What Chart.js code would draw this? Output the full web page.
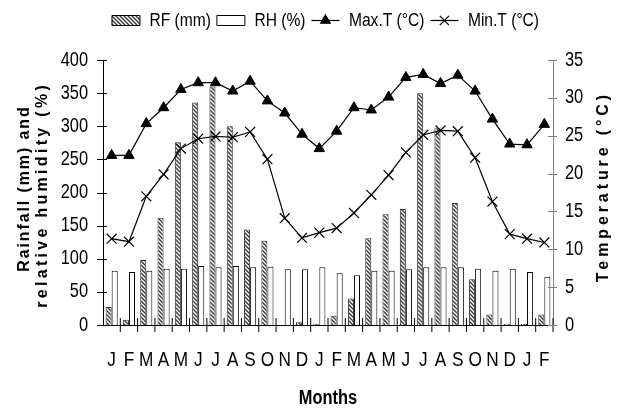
<!DOCTYPE html>
<html>
<head>
<meta charset="utf-8">
<script src="https://cdn.jsdelivr.net/npm/chart.js@4/dist/chart.umd.min.js"></script>
<style>
html,body{margin:0;padding:0;background:#fff;}
#wrap{width:629px;height:410px;position:relative;}
</style>
</head>
<body>
<div id="wrap"><canvas id="c" width="629" height="410"></canvas></div>
<script>
// ---- data ----
const months = ['J','F','M','A','M','J','J','A','S','O','N','D','J','F','M','A','M','J','J','A','S','O','N','D','J','F'];
const rainfall = [27, 8, 98, 162, 276, 336, 360, 300, 144, 127, 0, 4, 2, 14, 40, 131, 167, 175, 350, 297, 184, 69, 16, 2, 2, 16];
const humidity = [82, 80, 82, 85, 85, 89, 87, 89, 87, 88, 84, 84, 87, 78, 75, 82, 82, 84, 87, 87, 87, 85, 82, 85, 80, 73];
const maxTemp = [22.4, 22.4, 26.6, 28.7, 31.1, 32.0, 32.0, 30.9, 32.2, 29.6, 28.0, 25.2, 23.3, 25.6, 28.7, 28.4, 30.1, 32.7, 33.1, 31.9, 33.0, 30.9, 27.2, 23.9, 23.8, 26.5];
const minTemp = [11.4, 11.0, 17.0, 19.9, 23.3, 24.6, 24.9, 24.8, 25.5, 21.9, 14.1, 11.5, 12.2, 12.8, 14.8, 17.2, 19.8, 22.8, 25.1, 25.7, 25.6, 22.1, 16.3, 12.0, 11.4, 10.9];
const leftTicks = [0, 50, 100, 150, 200, 250, 300, 350, 400];
const rightTicks = [0, 5, 10, 15, 20, 25, 30, 35];
const leftTitle = ['Rainfall (mm) and', 'relative humidity (%)'];
const rightTitle = 'Temperature (°C)';
const xTitle = 'Months';

const FONT = "'Liberation Sans', Arial, sans-serif";

// condensed look (like Arial Narrow) for the chart text: squeeze glyphs horizontally
const canvas = document.getElementById('c');
const c2d = canvas.getContext('2d');
const SQUEEZE = 0.82;
let squeezeOn = true;
const _fill = c2d.fillText.bind(c2d);
const _measure = c2d.measureText.bind(c2d);
c2d.fillText = function (text, x, y, maxWidth) {
  if (!squeezeOn) return maxWidth === undefined ? _fill(text, x, y) : _fill(text, x, y, maxWidth);
  const w = _measure(text).width * SQUEEZE;
  _fill(text, x, y, maxWidth !== undefined ? Math.min(maxWidth, w) : w);
};
c2d.measureText = function (text) {
  const m = _measure(text);
  if (!squeezeOn) return m;
  return {
    width: m.width * SQUEEZE,
    actualBoundingBoxAscent: m.actualBoundingBoxAscent,
    actualBoundingBoxDescent: m.actualBoundingBoxDescent,
    actualBoundingBoxLeft: m.actualBoundingBoxLeft * SQUEEZE,
    actualBoundingBoxRight: m.actualBoundingBoxRight * SQUEEZE,
    fontBoundingBoxAscent: m.fontBoundingBoxAscent,
    fontBoundingBoxDescent: m.fontBoundingBoxDescent
  };
};

// hatch pattern for rainfall bars
function makeHatch() {
  const s = 4;
  const cv = document.createElement('canvas');
  cv.width = s; cv.height = s;
  const g = cv.getContext('2d');
  g.fillStyle = '#fff';
  g.fillRect(0, 0, s, s);
  g.strokeStyle = '#3a3a3a';
  g.lineWidth = 1.4;
  g.beginPath();
  g.moveTo(-1, -1); g.lineTo(s + 1, s + 1);
  g.moveTo(-1, s - 1); g.lineTo(1, s + 1);
  g.moveTo(s - 1, -1); g.lineTo(s + 1, 1);
  g.stroke();
  return g.createPattern(cv, 'repeat');
}
const hatch = makeHatch();

const LEGEND_SHIFT_X = 11;
const LEGEND_SHIFT_Y = 20;

function drawRotated(ctx, text, x, y, spacing) {
  ctx.save();
  squeezeOn = false;
  ctx.fillStyle = '#000';
  ctx.font = 'bold 16px ' + FONT;
  if ('letterSpacing' in ctx) ctx.letterSpacing = spacing + 'px';
  ctx.textAlign = 'center';
  ctx.textBaseline = 'middle';
  ctx.translate(x, y);
  ctx.rotate(-Math.PI / 2);
  ctx.fillText(text, spacing / 2, 0);
  squeezeOn = true;
  ctx.restore();
}

const decor = {
  id: 'decor',
  afterLayout(chart) {
    const lg = chart.legend;
    if (lg) {
      lg.left += LEGEND_SHIFT_X; lg.right += LEGEND_SHIFT_X;
      lg.top -= LEGEND_SHIFT_Y; lg.bottom -= LEGEND_SHIFT_Y;
    }
  },
  afterDraw(chart) {
    const ctx = chart.ctx;
    const sx = chart.scales.x, sy = chart.scales.y, s2 = chart.scales.y2;
    ctx.save();
    ctx.lineWidth = 1;
    // crossing tick marks on left axis
    ctx.strokeStyle = '#000';
    ctx.beginPath();
    leftTicks.forEach(v => {
      const y = Math.round(sy.getPixelForValue(v)) + 0.5;
      ctx.moveTo(sy.right - 6, y); ctx.lineTo(sy.right + 4, y);
    });
    // category boundary ticks on x axis
    for (let i = 1; i <= months.length; i++) {
      const x = sx.getPixelForValue(i - 0.5);
      ctx.moveTo(x, sx.top - 7); ctx.lineTo(x, sx.top + 7);
    }
    ctx.stroke();
    // right axis ticks (gray)
    ctx.strokeStyle = '#808080';
    ctx.beginPath();
    rightTicks.forEach(v => {
      const y = Math.round(s2.getPixelForValue(v)) + 0.5;
      ctx.moveTo(s2.left - 5, y); ctx.lineTo(s2.left + 4, y);
    });
    ctx.stroke();
    ctx.restore();

    // axis titles (bold, letter-spaced, reading bottom-to-top)
    const midY = (sy.top + sy.bottom) / 2;
    drawRotated(ctx, leftTitle[0], 25, midY - 3, 1.9);
    drawRotated(ctx, leftTitle[1], 43, midY + 4, 3.3);
    drawRotated(ctx, rightTitle, 604, midY - 4, 3.9);

    // legend symbols for line series
    const lg = chart.legend;
    if (lg && lg.legendHitBoxes) {
      const bw = lg.options.labels.boxWidth;
      lg.legendItems.forEach((it, i) => {
        if (it.datasetIndex < 2) return;
        const hb = lg.legendHitBoxes[i];
        const ds = chart.data.datasets[it.datasetIndex];
        const cy = hb.top + hb.height / 2;
        ctx.save();
        ctx.strokeStyle = '#000';
        ctx.fillStyle = '#000';
        ctx.lineWidth = 1.2;
        ctx.beginPath();
        ctx.moveTo(hb.left, cy); ctx.lineTo(hb.left + bw, cy);
        ctx.stroke();
        Chart.helpers.drawPoint(ctx, {pointStyle: ds.pointStyle, radius: ds.pointRadius - 0.5, rotation: 0, borderWidth: 1}, hb.left + bw / 2, cy);
        ctx.restore();
      });
    }
  }
};

new Chart(canvas, {
  type: 'bar',
  data: {
    labels: months,
    datasets: [
      { type: 'bar', label: 'RF (mm)', data: rainfall, yAxisID: 'y', backgroundColor: hatch, borderColor: '#333', borderWidth: 1, barPercentage: 1, categoryPercentage: 0.7, order: 2 },
      { type: 'bar', label: 'RH (%)', data: humidity, yAxisID: 'y', backgroundColor: '#fff', borderColor: '#000', borderWidth: 1, barPercentage: 1, categoryPercentage: 0.7, order: 2 },
      { type: 'line', label: 'Max.T (°C)', data: maxTemp, yAxisID: 'y2', borderColor: '#000', borderWidth: 1.2, backgroundColor: '#000', pointStyle: 'triangle', pointRadius: 6, pointBackgroundColor: '#000', pointBorderColor: '#000', pointBorderWidth: 1, tension: 0, order: 1 },
      { type: 'line', label: 'Min.T (°C)', data: minTemp, yAxisID: 'y2', borderColor: '#000', borderWidth: 1.2, backgroundColor: '#000', pointStyle: 'crossRot', pointRadius: 7, pointBorderColor: '#000', pointBorderWidth: 1.2, tension: 0, order: 1 }
    ]
  },
  options: {
    responsive: false,
    animation: false,
    devicePixelRatio: 1,
    layout: { padding: { top: 25, left: 0, right: 0, bottom: 0 } },
    plugins: {
      tooltip: { enabled: false },
      legend: {
        position: 'top',
        labels: {
          font: { family: FONT, size: 19 },
          color: '#000',
          boxWidth: 28,
          boxHeight: 10,
          padding: 6,
          generateLabels(chart) {
            const items = Chart.defaults.plugins.legend.labels.generateLabels(chart);
            items.forEach(it => {
              if (it.datasetIndex >= 2) {
                it.fillStyle = 'rgba(0,0,0,0)';
                it.strokeStyle = 'rgba(0,0,0,0)';
                it.lineWidth = 0;
              } else {
                it.lineWidth = 1;
                it.strokeStyle = '#000';
              }
            });
            return items.sort((a, b) => a.datasetIndex - b.datasetIndex);
          }
        }
      }
    },
    scales: {
      x: {
        grid: { display: false, drawTicks: false },
        border: { display: true, color: '#000', width: 1 },
        ticks: { font: { family: FONT, size: 21 }, color: '#000', padding: 23, maxRotation: 0, autoSkip: false },
        title: { display: true, text: xTitle, color: '#000', font: { family: FONT, size: 20, weight: 'bold' }, padding: { top: 0, bottom: 0 } },
        afterFit(s) { s.height = 85; }
      },
      y: {
        position: 'left',
        min: 0, max: 400,
        afterBuildTicks(s) { s.ticks = leftTicks.map(v => ({ value: v })); },
        grid: { display: false, drawTicks: false },
        border: { display: true, color: '#000', width: 1 },
        ticks: { font: { family: FONT, size: 20 }, color: '#000', padding: 15 },
        afterFit(s) { s.width = 103; }
      },
      y2: {
        position: 'right',
        min: 0, max: 35,
        afterBuildTicks(s) { s.ticks = rightTicks.map(v => ({ value: v })); },
        grid: { display: false, drawTicks: false },
        border: { display: true, color: '#808080', width: 1 },
        ticks: { font: { family: FONT, size: 20 }, color: '#000', padding: 12 },
        afterFit(s) { s.width = 76; }
      }
    }
  },
  plugins: [decor]
});
</script>
</body>
</html>
